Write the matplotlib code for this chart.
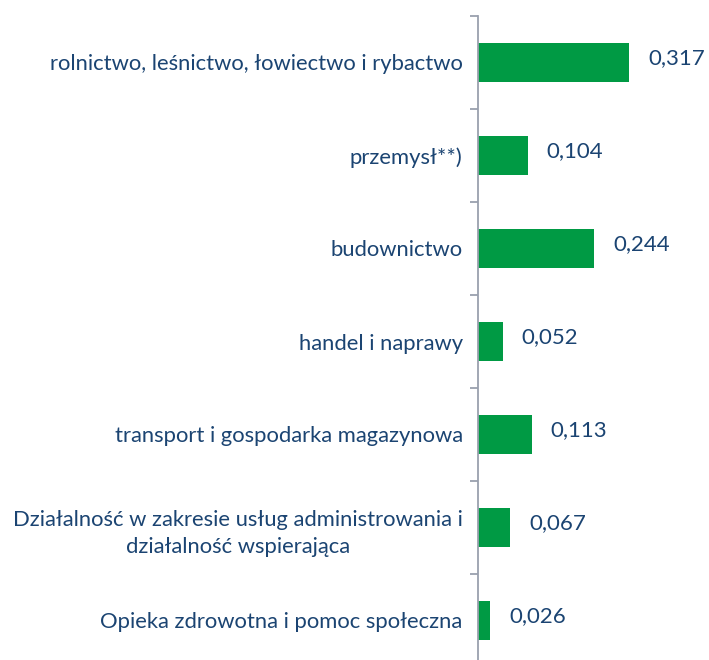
import matplotlib
matplotlib.use("Agg")
import matplotlib.pyplot as plt

categories = [
    "rolnictwo, leśnictwo, łowiectwo i rybactwo",
    "przemysł**)",
    "budownictwo",
    "handel i naprawy",
    "transport i gospodarka magazynowa",
    "Działalność w zakresie usług administrowania i\ndziałalność wspierająca",
    "Opieka zdrowotna i pomoc społeczna",
]
values = [0.317, 0.104, 0.244, 0.052, 0.113, 0.067, 0.026]

bar_color = "#009A44"
text_color = "#1B4472"
axis_color = "#9AA0AE"

plt.rcParams['font.family'] = ['Lato', 'DejaVu Sans']

fig = plt.figure(figsize=(7.09, 6.60), dpi=100)
ax = fig.add_axes([478/709, -7/660, 231/709, 651/660])

n = len(categories)
ypos = list(range(n))
ax.barh(ypos, values, height=0.42, color=bar_color)
ax.set_ylim(n - 0.5, -0.5)
ax.set_xlim(0, 231/476)

for y, v in zip(ypos, values):
    ax.text(v + 19/476, y - 0.05, f"{v:.3f}".replace(".", ","), va="center", ha="left",
            fontsize=16, color=text_color)

ax.set_yticks([i + 0.5 for i in range(-1, n)])
ax.set_yticklabels([])
ax.set_yticks(ypos, minor=True)
ax.set_yticklabels(categories, minor=True, fontsize=15.8, color=text_color, ha="right",
                   multialignment="center", linespacing=1.45)
ax.tick_params(axis="y", which="minor", length=0, pad=11)
ax.tick_params(axis="y", which="major", length=6, width=1.3, color=axis_color, direction="out")
ax.set_xticks([])
for s in ["top", "right", "bottom"]:
    ax.spines[s].set_visible(False)
ax.spines["left"].set_color(axis_color)
ax.spines["left"].set_linewidth(1.3)

fig.savefig("out.png", dpi=100)
